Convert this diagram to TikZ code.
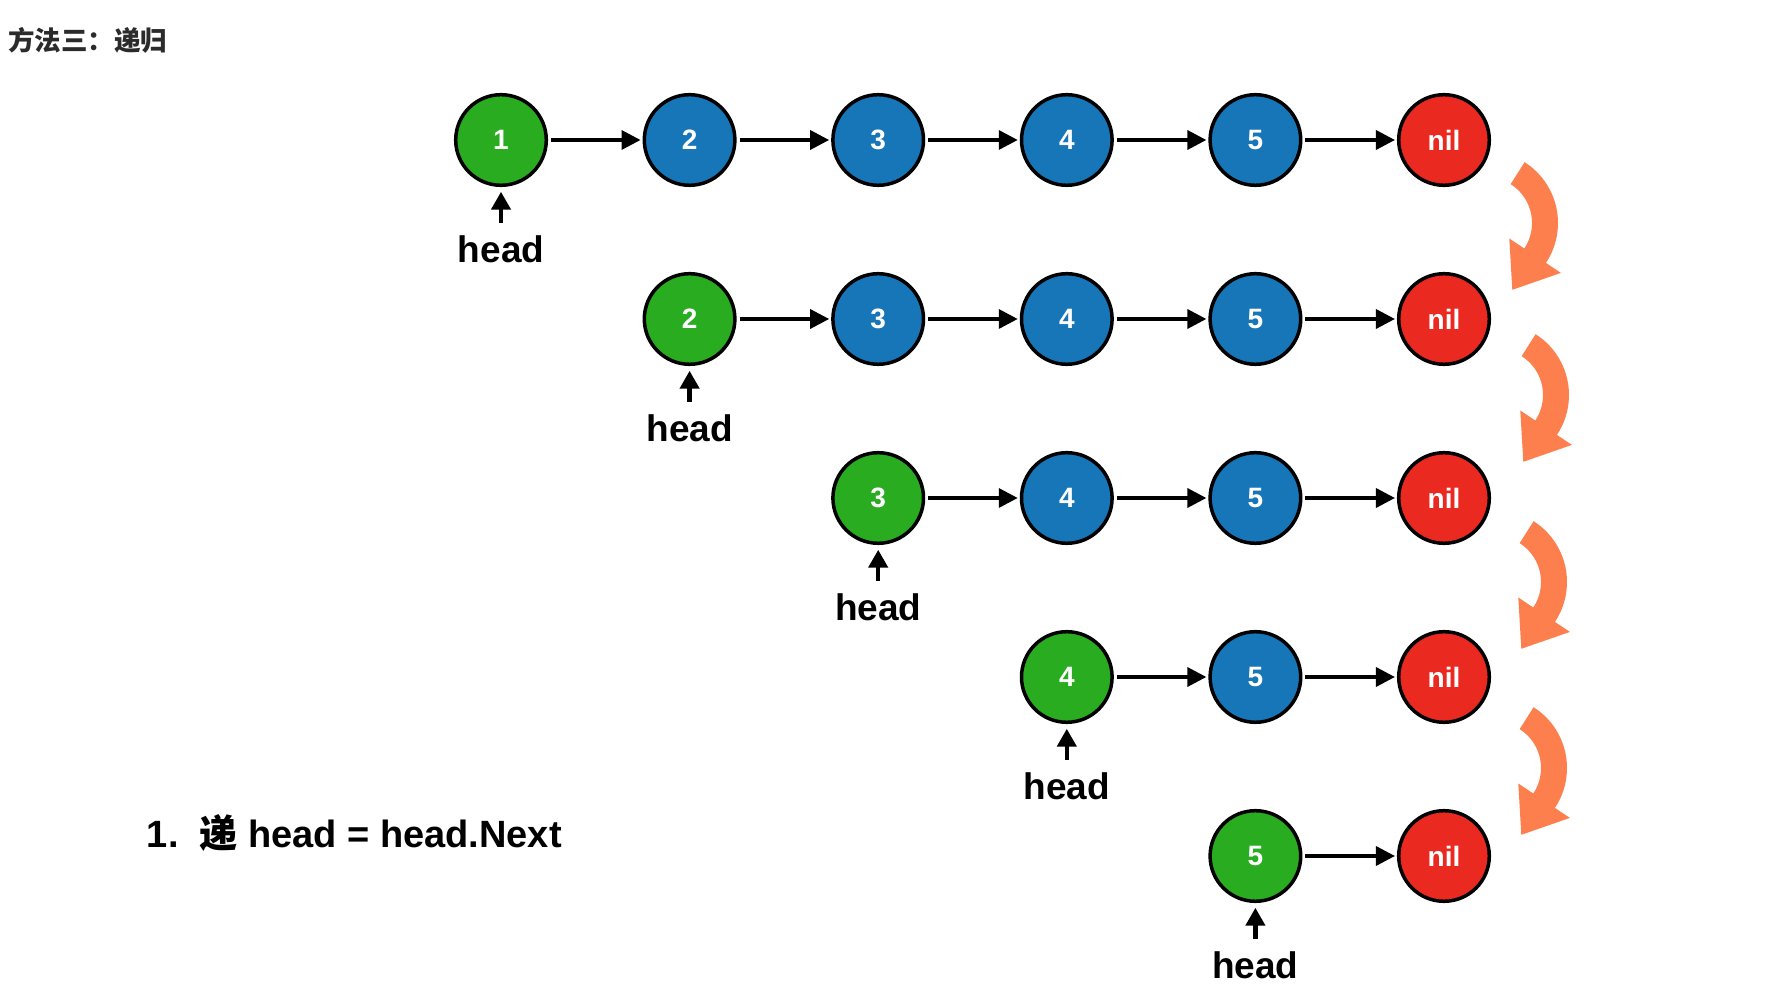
\documentclass[tikz,border=0pt]{standalone}
\usepackage{fontspec}
\setmainfont{Liberation Sans}
\newfontfamily\cjk{Noto Sans CJK SC}
\usetikzlibrary{arrows.meta}
\definecolor{ngreen}{HTML}{29AC20}
\definecolor{nblue}{HTML}{1676B8}
\definecolor{nred}{HTML}{EA2A21}
\definecolor{norange}{HTML}{FC7F4D}
\definecolor{titlegray}{HTML}{2B2B2B}
\tikzset{
  lnode/.style={circle, draw=black, line width=3.5pt, minimum size=90.6pt, inner sep=0pt,
    text=white, font=\fontsize{28}{28}\selectfont\bfseries},
  headn/.style={lnode, fill=ngreen},
  midn/.style={lnode, fill=nblue},
  niln/.style={lnode, fill=nred},
  link/.style={line width=3.5pt, -{Triangle[length=19pt,width=19pt]}, shorten <=3pt, shorten >=2pt},
  ptr/.style={line width=4.5pt, -{Triangle[length=18pt,width=19pt]}, shorten >=4.7pt},
  headlbl/.style={font=\fontsize{37}{37}\selectfont\bfseries, inner xsep=0pt, inner ysep=13pt, anchor=base},
  recurse/.pic={\fill[norange] (57.6:72) arc[start angle=57.6,end angle=-33.7,radius=72]
     -- (74.9,-49.9) -- (26.3,-66.8) -- (23.3,-15.5) -- (-33.7:46)
     arc[start angle=-33.7,end angle=57.6,radius=46] -- cycle;}
}
\begin{document}
\begin{tikzpicture}[x=1pt,y=1pt]
\fill[white] (0,0) rectangle (1792,1004);
\useasboundingbox (0,0) rectangle (1792,1004);

\node[anchor=west, text=titlegray, font=\cjk\bfseries\fontsize{26.5}{26.5}\selectfont, inner sep=0pt] (title) at (8,964) {方法三：递归};

% row 1
\node[headn] (a1) at (501,864) {1};
\node[midn]  (a2) at (689.6,864) {2};
\node[midn]  (a3) at (878.2,864) {3};
\node[midn]  (a4) at (1066.8,864) {4};
\node[midn]  (a5) at (1255.4,864) {5};
\node[niln]  (a6) at (1444,864) {nil};
\draw[link] (a1) -- (a2);
\draw[link] (a2) -- (a3);
\draw[link] (a3) -- (a4);
\draw[link] (a4) -- (a5);
\draw[link] (a5) -- (a6);
\node[headlbl] (ha) at (501,741) {head};
\draw[ptr] (ha.north) -- (a1.south);

% row 2
\node[headn] (b2) at (689.6,685) {2};
\node[midn]  (b3) at (878.2,685) {3};
\node[midn]  (b4) at (1066.8,685) {4};
\node[midn]  (b5) at (1255.4,685) {5};
\node[niln]  (b6) at (1444,685) {nil};
\draw[link] (b2) -- (b3);
\draw[link] (b3) -- (b4);
\draw[link] (b4) -- (b5);
\draw[link] (b5) -- (b6);
\node[headlbl] (hb) at (689.6,562) {head};
\draw[ptr] (hb.north) -- (b2.south);

% row 3
\node[headn] (c3) at (878.2,506) {3};
\node[midn]  (c4) at (1066.8,506) {4};
\node[midn]  (c5) at (1255.4,506) {5};
\node[niln]  (c6) at (1444,506) {nil};
\draw[link] (c3) -- (c4);
\draw[link] (c4) -- (c5);
\draw[link] (c5) -- (c6);
\node[headlbl] (hc) at (878.2,383) {head};
\draw[ptr] (hc.north) -- (c3.south);

% row 4
\node[headn] (d4) at (1066.8,327) {4};
\node[midn]  (d5) at (1255.4,327) {5};
\node[niln]  (d6) at (1444,327) {nil};
\draw[link] (d4) -- (d5);
\draw[link] (d5) -- (d6);
\node[headlbl] (hd) at (1066.8,204) {head};
\draw[ptr] (hd.north) -- (d4.south);

% row 5
\node[headn] (e5) at (1255.4,148) {5};
\node[niln]  (e6) at (1444,148) {nil};
\draw[link] (e5) -- (e6);
\node[headlbl] (he) at (1255.4,25) {head};
\draw[ptr] (he.north) -- (e5.south);

% recursion arrows
\pic at (1486,781) {recurse};
\pic at (1497,609) {recurse};
\pic at (1495,422) {recurse};
\pic at (1495,236) {recurse};

\node[anchor=base west, inner sep=0pt, font=\fontsize{38}{38}\selectfont\bfseries] (note) at (146.7,156) {1.\hspace{21pt}{\cjk 递} head = head.Next};
\end{tikzpicture}
\end{document}
